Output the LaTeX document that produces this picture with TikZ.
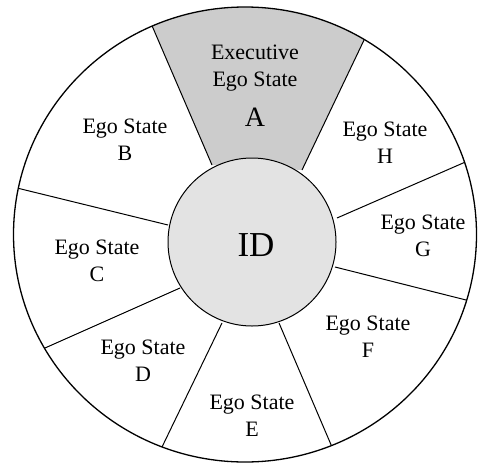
\documentclass[tikz,border=0pt]{standalone}
\usepackage{fontspec}
\setmainfont{Liberation Serif}
\usetikzlibrary{calc}
\tikzset{
  spoke/.style={draw=black, line width=1pt},
  lbl/.style={align=center, font=\fontsize{22}{27}\selectfont, inner sep=0pt},
  bigl/.style={font=\fontsize{28}{28}\selectfont, inner sep=0pt},
}
\begin{document}
\begin{tikzpicture}[x=1pt,y=-1pt]
\useasboundingbox (0,0) rectangle (478,463);
\fill[white] (0,0) rectangle (478,463);
\coordinate (O) at (245,234.5);
% spoke end points (outer points are directions; clipped to the outer rim)
\coordinate (a1o) at (153,28);  \coordinate (a1i) at (212,165);
\coordinate (a2o) at (365,38);  \coordinate (a2i) at (302,170);
\coordinate (hgo) at (470,160); \coordinate (hgi) at (337,218);
\coordinate (gfo) at (474,302); \coordinate (gfi) at (335,267);
\coordinate (feo) at (332,447); \coordinate (fei) at (279,323);
\coordinate (edo) at (162,447); \coordinate (edi) at (222,323);
\coordinate (dco) at (45,348);  \coordinate (dci) at (180,288);
\coordinate (cbo) at (17,188);  \coordinate (cbi) at (168,225);
\begin{scope}
\clip (O) ellipse [x radius=231.5, y radius=227.5];
% executive sector fill
\fill[black!20] (a1i) -- ($(a1i)!1.5!(a1o)$) -- ($(a2i)!1.5!(a2o)$) -- (a2i) -- cycle;
% spokes
\foreach \p in {a1,a2,hg,gf,fe,ed,dc,cb}{
  \draw[spoke] (\p i) -- ($(\p i)!1.3!(\p o)$);
}
\end{scope}
% outer circle
\draw[line width=1.3pt] (O) ellipse [x radius=231.5, y radius=227.5];
% inner circle
\node[circle, draw=black, line width=1pt, fill=black!11, minimum size=168pt, inner sep=0pt] (id) at (252,242) {};
\node[font=\fontsize{35}{35}\selectfont, inner sep=0pt] (idt) at (256,245) {ID};
% labels
\node[lbl] (ta) at (255,68) {Executive\\Ego State};
\node[bigl] (tA) at (255,117) {A};
\node[lbl] (tb) at (125,140) {Ego State\\B};
\node[lbl] (th) at (385,143) {Ego State\\H};
\node[lbl] (tg) at (423,236) {Ego State\\G};
\node[lbl] (tc) at (97,261) {Ego State\\C};
\node[lbl] (tf) at (368,337) {Ego State\\F};
\node[lbl] (td) at (143,361) {Ego State\\D};
\node[lbl] (te) at (252,416) {Ego State\\E};
\end{tikzpicture}
\end{document}
